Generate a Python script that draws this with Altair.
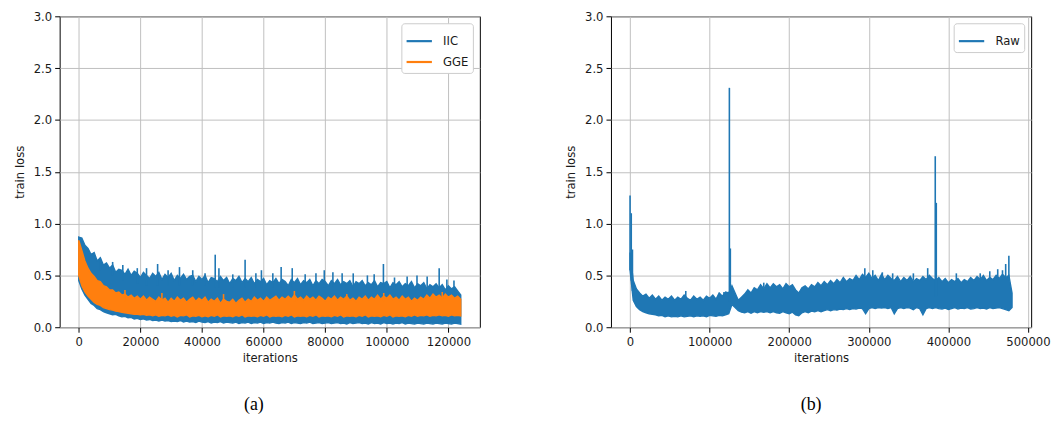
import altair as alt
import pandas as pd

# ---------------- Panel (a) data: IIC and GGE train loss envelopes ----------------
a_iter = [
    0, 1000, 2000, 3000, 4000, 5000, 6000, 7000, 8000, 9000,
    10000, 11000, 12000, 13000, 14000, 15000, 16000, 17000, 18000, 19000,
    20000, 21000, 22000, 23000, 24000, 25000, 26000, 27000, 28000, 29000,
    30000, 31000, 32000, 33000, 34000, 35000, 36000, 37000, 38000, 39000,
    40000, 41000, 42000, 43000, 44000, 45000, 46000, 47000, 48000, 49000,
    50000, 51000, 52000, 53000, 54000, 55000, 56000, 57000, 58000, 59000,
    60000, 61000, 62000, 63000, 64000, 65000, 66000, 67000, 68000, 69000,
    70000, 71000, 72000, 73000, 74000, 75000, 76000, 77000, 78000, 79000,
    80000, 81000, 82000, 83000, 84000, 85000, 86000, 87000, 88000, 89000,
    90000, 91000, 92000, 93000, 94000, 95000, 96000, 97000, 98000, 99000,
    100000, 101000, 102000, 103000, 104000, 105000, 106000, 107000, 108000, 109000,
    110000, 111000, 112000, 113000, 114000, 115000, 116000, 117000, 118000, 119000,
    120000, 121000, 122000, 123000, 124000,
]
iic_hi = [
    0.87, 0.86, 0.79, 0.76, 0.70, 0.72, 0.64, 0.67, 0.60, 0.62,
    0.57, 0.60, 0.53, 0.56, 0.55, 0.51, 0.56, 0.50, 0.54, 0.52,
    0.48, 0.53, 0.50, 0.47, 0.52, 0.49, 0.53, 0.46, 0.51, 0.48,
    0.52, 0.45, 0.50, 0.47, 0.51, 0.46, 0.49, 0.50, 0.44, 0.49,
    0.46, 0.50, 0.43, 0.48, 0.47, 0.44, 0.49, 0.45, 0.48, 0.42,
    0.47, 0.45, 0.49, 0.43, 0.47, 0.44, 0.48, 0.42, 0.46, 0.44,
    0.47, 0.41, 0.45, 0.43, 0.47, 0.42, 0.46, 0.44, 0.40, 0.46,
    0.43, 0.47, 0.41, 0.45, 0.43, 0.46, 0.40, 0.45, 0.42, 0.46,
    0.44, 0.40, 0.45, 0.42, 0.46, 0.41, 0.44, 0.42, 0.45, 0.39,
    0.44, 0.42, 0.45, 0.40, 0.43, 0.41, 0.45, 0.39, 0.43, 0.42,
    0.44, 0.38, 0.43, 0.41, 0.44, 0.39, 0.42, 0.40, 0.44, 0.38,
    0.42, 0.40, 0.43, 0.37, 0.41, 0.39, 0.42, 0.38, 0.41, 0.36,
    0.40, 0.37, 0.39, 0.35, 0.31,
]
iic_lo = [
    0.45, 0.37, 0.31, 0.27, 0.23, 0.21, 0.18, 0.17, 0.15, 0.14,
    0.13, 0.12, 0.125, 0.11, 0.10, 0.105, 0.09, 0.095, 0.08, 0.085,
    0.075, 0.08, 0.07, 0.075, 0.065, 0.07, 0.06, 0.07, 0.06, 0.065,
    0.055, 0.06, 0.055, 0.065, 0.05, 0.06, 0.05, 0.055, 0.045, 0.06,
    0.05, 0.045, 0.055, 0.04, 0.05, 0.045, 0.055, 0.04, 0.05, 0.045,
    0.04, 0.05, 0.035, 0.045, 0.04, 0.05, 0.035, 0.045, 0.04, 0.05,
    0.035, 0.045, 0.04, 0.05, 0.04, 0.035, 0.045, 0.04, 0.05, 0.035,
    0.045, 0.04, 0.035, 0.045, 0.04, 0.05, 0.035, 0.04, 0.045, 0.035,
    0.04, 0.045, 0.035, 0.04, 0.045, 0.035, 0.04, 0.03, 0.045, 0.035,
    0.04, 0.045, 0.035, 0.04, 0.03, 0.045, 0.035, 0.04, 0.03, 0.045,
    0.035, 0.04, 0.03, 0.04, 0.035, 0.045, 0.03, 0.04, 0.035, 0.03,
    0.04, 0.035, 0.03, 0.04, 0.035, 0.03, 0.04, 0.035, 0.03, 0.04,
    0.035, 0.03, 0.04, 0.035, 0.03,
]
gge_hi = [
    0.84, 0.74, 0.64, 0.57, 0.52, 0.49, 0.45, 0.44, 0.40, 0.39,
    0.36, 0.36, 0.33, 0.34, 0.31, 0.32, 0.29, 0.31, 0.28, 0.30,
    0.27, 0.30, 0.26, 0.29, 0.27, 0.25, 0.29, 0.26, 0.28, 0.24,
    0.28, 0.25, 0.29, 0.26, 0.28, 0.24, 0.27, 0.29, 0.25, 0.28,
    0.26, 0.29, 0.24, 0.27, 0.25, 0.28, 0.23, 0.27, 0.25, 0.24,
    0.27, 0.23, 0.26, 0.28, 0.24, 0.27, 0.25, 0.29, 0.26, 0.28,
    0.25, 0.29, 0.26, 0.28, 0.30, 0.26, 0.29, 0.27, 0.30, 0.27,
    0.31, 0.27, 0.29, 0.26, 0.30, 0.27, 0.29, 0.26, 0.30, 0.28,
    0.25, 0.29, 0.27, 0.30, 0.26, 0.29, 0.27, 0.30, 0.26, 0.28,
    0.25, 0.29, 0.27, 0.30, 0.26, 0.29, 0.27, 0.31, 0.27, 0.30,
    0.28, 0.31, 0.27, 0.29, 0.26, 0.30, 0.27, 0.29, 0.25, 0.28,
    0.26, 0.29, 0.27, 0.31, 0.28, 0.32, 0.29, 0.31, 0.28, 0.32,
    0.29, 0.31, 0.28, 0.30, 0.27,
]
gge_lo = [
    0.50, 0.40, 0.34, 0.30, 0.27, 0.24, 0.22, 0.21, 0.19, 0.18,
    0.17, 0.165, 0.155, 0.15, 0.145, 0.14, 0.135, 0.13, 0.125, 0.125,
    0.12, 0.125, 0.115, 0.12, 0.11, 0.12, 0.105, 0.115, 0.11, 0.12,
    0.105, 0.115, 0.10, 0.115, 0.11, 0.12, 0.10, 0.11, 0.105, 0.115,
    0.10, 0.11, 0.10, 0.115, 0.105, 0.12, 0.10, 0.11, 0.105, 0.11,
    0.10, 0.115, 0.105, 0.12, 0.10, 0.11, 0.105, 0.11, 0.10, 0.115,
    0.105, 0.12, 0.10, 0.11, 0.105, 0.11, 0.10, 0.115, 0.105, 0.12,
    0.10, 0.11, 0.105, 0.11, 0.10, 0.115, 0.105, 0.12, 0.10, 0.11,
    0.105, 0.11, 0.10, 0.115, 0.105, 0.12, 0.10, 0.11, 0.105, 0.11,
    0.10, 0.115, 0.105, 0.12, 0.10, 0.11, 0.105, 0.11, 0.10, 0.115,
    0.105, 0.12, 0.10, 0.11, 0.105, 0.11, 0.10, 0.115, 0.105, 0.12,
    0.105, 0.115, 0.11, 0.12, 0.105, 0.115, 0.11, 0.12, 0.11, 0.115,
    0.105, 0.12, 0.11, 0.115, 0.11,
]
# narrow spikes above the bands
iic_spike_iter = [7000, 11000, 14300, 19000, 22000, 25600, 29000, 32700, 37000, 41000,
                  44300, 45500, 50000, 54000, 57500, 59300, 63000, 65700, 69300, 73500,
                  77000, 79700, 82500, 85500, 89100, 93700, 95900, 98900, 102500, 106600,
                  109800, 113100, 117000, 119500, 121800]
iic_spike_top = [0.67, 0.63, 0.60, 0.57, 0.57, 0.61, 0.55, 0.58, 0.55, 0.52,
                 0.70, 0.57, 0.51, 0.65, 0.52, 0.55, 0.52, 0.58, 0.57, 0.51,
                 0.52, 0.55, 0.53, 0.52, 0.52, 0.50, 0.51, 0.61, 0.48, 0.49,
                 0.50, 0.49, 0.57, 0.46, 0.45]
iic_spike_base = [0.55, 0.50, 0.45, 0.42, 0.40, 0.40, 0.40, 0.40, 0.40, 0.40,
                  0.38, 0.38, 0.38, 0.38, 0.38, 0.38, 0.38, 0.38, 0.38, 0.38,
                  0.38, 0.38, 0.38, 0.38, 0.38, 0.38, 0.38, 0.38, 0.36, 0.36,
                  0.36, 0.36, 0.36, 0.35, 0.34]
gge_spike_iter = [15000, 27000, 47000, 70000, 87000, 99000, 118000]
gge_spike_top = [0.36, 0.33, 0.32, 0.35, 0.32, 0.33, 0.34]
gge_spike_base = [0.25, 0.24, 0.23, 0.25, 0.25, 0.25, 0.27]

# ---------------- Panel (b) data: Raw train loss envelope ----------------
b_iter = [
    0, 4000, 8000, 12000, 16000, 20000, 24000, 28000, 32000, 36000,
    40000, 44000, 48000, 52000, 56000, 60000, 64000, 68000, 72000, 76000,
    80000, 84000, 88000, 92000, 96000, 100000, 104000, 108000, 112000, 116000,
    120000, 124000, 128000, 132000, 136000, 140000, 144000, 148000, 152000, 156000,
    160000, 164000, 168000, 172000, 176000, 180000, 184000, 188000, 192000, 196000,
    200000, 204000, 208000, 212000, 216000, 220000, 224000, 228000, 232000, 236000,
    240000, 244000, 248000, 252000, 256000, 260000, 264000, 268000, 272000, 276000,
    280000, 284000, 288000, 292000, 296000, 300000, 304000, 308000, 312000, 316000,
    320000, 324000, 328000, 332000, 336000, 340000, 344000, 348000, 352000, 356000,
    360000, 364000, 368000, 372000, 376000, 380000, 384000, 388000, 392000, 396000,
    400000, 404000, 408000, 412000, 416000, 420000, 424000, 428000, 432000, 436000,
    440000, 444000, 448000, 452000, 456000, 460000, 464000, 468000, 472000, 476000,
    480000,
]
raw_hi = [
    0.72, 0.45, 0.37, 0.33, 0.30, 0.32, 0.28, 0.31, 0.27, 0.30,
    0.26, 0.29, 0.27, 0.30, 0.26, 0.29, 0.27, 0.31, 0.28, 0.26,
    0.30, 0.27, 0.29, 0.26, 0.30, 0.28, 0.31, 0.27, 0.33, 0.30,
    0.34, 0.33, 0.40, 0.33, 0.26, 0.29, 0.32, 0.36, 0.33, 0.38,
    0.36, 0.41, 0.37, 0.42, 0.38, 0.42, 0.39, 0.41, 0.37, 0.42,
    0.39, 0.41, 0.36, 0.33, 0.38, 0.40, 0.37, 0.41, 0.39, 0.43,
    0.40, 0.44, 0.41, 0.45, 0.42, 0.46, 0.43, 0.48, 0.44, 0.47,
    0.45, 0.50, 0.46, 0.51, 0.48, 0.52, 0.47, 0.50, 0.45, 0.51,
    0.46, 0.50, 0.47, 0.45, 0.49, 0.44, 0.48, 0.45, 0.49, 0.44,
    0.47, 0.45, 0.49, 0.46, 0.50, 0.47, 0.45, 0.48, 0.44, 0.47,
    0.43, 0.46, 0.44, 0.47, 0.43, 0.46, 0.44, 0.48, 0.45, 0.49,
    0.46, 0.50, 0.45, 0.48, 0.46, 0.50, 0.47, 0.51, 0.48, 0.50,
    0.33,
]
raw_lo = [
    0.55, 0.26, 0.20, 0.17, 0.15, 0.14, 0.13, 0.125, 0.12, 0.11,
    0.115, 0.10, 0.11, 0.10, 0.105, 0.10, 0.11, 0.10, 0.105, 0.11,
    0.10, 0.11, 0.105, 0.11, 0.10, 0.115, 0.11, 0.105, 0.115, 0.11,
    0.12, 0.13, 0.22, 0.19, 0.16, 0.145, 0.14, 0.15, 0.135, 0.15,
    0.14, 0.15, 0.145, 0.15, 0.14, 0.15, 0.14, 0.135, 0.15, 0.14,
    0.13, 0.145, 0.12, 0.11, 0.14, 0.15, 0.14, 0.155, 0.15, 0.16,
    0.15, 0.16, 0.17, 0.16, 0.17, 0.165, 0.175, 0.17, 0.18, 0.17,
    0.18, 0.175, 0.185, 0.18, 0.13, 0.18, 0.19, 0.18, 0.19, 0.185,
    0.19, 0.18, 0.19, 0.13, 0.18, 0.19, 0.18, 0.19, 0.185, 0.17,
    0.19, 0.18, 0.12, 0.18, 0.19, 0.18, 0.19, 0.18, 0.175, 0.185,
    0.17, 0.18, 0.19, 0.175, 0.185, 0.18, 0.19, 0.175, 0.18, 0.19,
    0.18, 0.185, 0.175, 0.19, 0.18, 0.185, 0.19, 0.18, 0.17, 0.16,
    0.19,
]
raw_spike_iter = [0, 1500, 3000, 70000, 118000, 124800, 126000, 168000, 295000, 305000,
                  317000, 330000, 356000, 374000, 383500, 384800, 410000, 440000, 452000, 462000,
                  468000, 472000, 476000]
raw_spike_top = [1.27, 1.10, 0.75, 0.35, 0.34, 2.31, 0.76, 0.43, 0.57, 0.55,
                 0.53, 0.52, 0.52, 0.57, 1.65, 1.20, 0.52, 0.52, 0.54, 0.56,
                 0.55, 0.61, 0.69]
raw_spike_base = [0.55, 0.45, 0.35, 0.28, 0.30, 0.25, 0.30, 0.38, 0.48, 0.48,
                  0.46, 0.46, 0.45, 0.47, 0.30, 0.30, 0.44, 0.46, 0.46, 0.47,
                  0.46, 0.48, 0.45]

y_ticks = [0.0, 0.5, 1.0, 1.5, 2.0, 2.5, 3.0]
a_xticks = [0, 20000, 40000, 60000, 80000, 100000, 120000]
b_xticks = [0, 100000, 200000, 300000, 400000, 500000]

BLUE = "#1f77b4"
ORANGE = "#ff7f0e"
FONT = "DejaVu Sans Condensed, DejaVu Sans, sans-serif"


def band_df(it, hi, lo):
    return pd.DataFrame({"x": it, "hi": hi, "lo": lo})


def spike_df(name, it, base, top):
    return pd.DataFrame({"series": name, "x": it, "base": base, "top": top})


def panel(bands, spikes, names, colors, xdomain, xticks, caption, cap_dx):
    xenc = alt.X("x:Q", title="iterations",
                 scale=alt.Scale(domain=xdomain, nice=False, zero=False),
                 axis=alt.Axis(values=xticks, format="d", labelOverlap=False))
    yscale = alt.Scale(domain=[0, 3], nice=False, zero=False)
    yaxis = alt.Axis(values=y_ticks, format=".1f")
    color = alt.Color("series:N", scale=alt.Scale(domain=names, range=colors),
                      legend=alt.Legend(
                          title=None, orient="top-right", offset=7,
                          fillColor="white", strokeColor="#cccccc", cornerRadius=3,
                          padding=4, symbolType="stroke", symbolSize=650,
                          symbolStrokeWidth=2.2, labelFont=FONT, labelFontSize=13,
                          labelColor="#1a1a1a", labelOffset=10, rowPadding=-9,
                      ))
    layers = []
    for bdf, sdf, c in zip(bands, spikes, colors):
        layers.append(
            alt.Chart(bdf).mark_area(color=c, stroke=c, strokeWidth=1.4, opacity=1).encode(
                x=xenc,
                y=alt.Y("hi:Q", title="train loss", scale=yscale, axis=yaxis),
                y2="lo:Q",
            )
        )
        layers.append(
            alt.Chart(sdf).mark_rule(strokeWidth=1.6).encode(
                x=xenc,
                y=alt.Y("base:Q", title="train loss", scale=yscale, axis=yaxis),
                y2="top:Q",
                color=color,
            )
        )
    return alt.layer(*layers).properties(
        width=423, height=313,
        title=alt.TitleParams(caption, orient="bottom", font="Liberation Serif",
                              fontSize=18, fontWeight="normal", color="black",
                              offset=31, dx=cap_dx),
    )


pa = panel(
    [band_df(a_iter, iic_hi, iic_lo), band_df(a_iter, gge_hi, gge_lo)],
    [spike_df("IIC", iic_spike_iter, iic_spike_base, iic_spike_top),
     spike_df("GGE", gge_spike_iter, gge_spike_base, gge_spike_top)],
    ["IIC", "GGE"], [BLUE, ORANGE], [-6200, 130200], a_xticks, "(a)", -16,
)
pb = panel(
    [band_df(b_iter, raw_hi, raw_lo)],
    [spike_df("Raw", raw_spike_iter, raw_spike_base, raw_spike_top)],
    ["Raw"], [BLUE], [-24000, 504000], b_xticks, "(b)", -10,
)

chart = alt.hconcat(pa, pb, spacing=83).resolve_scale(color="independent").properties(
    padding={"left": 4, "top": 0, "right": 2, "bottom": 0},
    background="white",
).configure_view(
    stroke="black", strokeWidth=1,
).configure_axis(
    domain=False, grid=True, gridColor="#c0c0c0", gridWidth=1,
    tickColor="black", tickSize=5, tickWidth=1,
    labelFont=FONT, labelFontSize=13, labelColor="#1a1a1a", labelPadding=3,
    titleFont=FONT, titleFontSize=13, titleFontWeight="normal", titleColor="#1a1a1a",
).configure_axisY(titlePadding=7).configure_axisX(titlePadding=4)

chart.save("out.html", embed_options={"renderer": "svg", "actions": False})
